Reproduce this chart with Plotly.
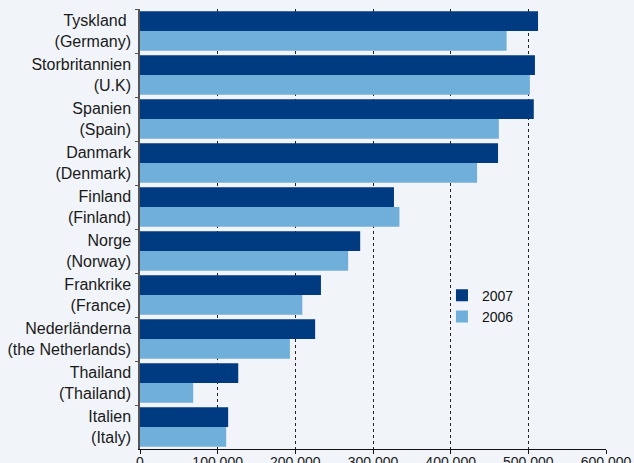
import plotly.graph_objects as go

categories = [
    "Tyskland\u00a0<br>(Germany)",
    "Storbritannien<br>(U.K)",
    "Spanien<br>(Spain)",
    "Danmark<br>(Denmark)",
    "Finland<br>(Finland)",
    "Norge<br>(Norway)",
    "Frankrike<br>(France)",
    "Nederländerna<br>(the Netherlands)",
    "Thailand<br>(Thailand)",
    "Italien<br>(Italy)",
]
values_2007 = [512500, 508500, 507000, 461000, 327000, 283500, 233000, 225500, 126500, 113500]
values_2006 = [472000, 502000, 462000, 434000, 334000, 268000, 209000, 193000, 68500, 111000]
tick_vals = [0, 100000, 200000, 300000, 400000, 500000, 600000]
tick_text = ["0", "100 000", "200 000", "300 000", "400 000", "500 000", "600 000"]

C2007 = "#003A80"
C2006 = "#70AFD9"
BG = "#F1F4F9"
FONT = "Liberation Sans, Arial, Helvetica, sans-serif"

fig = go.Figure()
fig.add_trace(go.Bar(name="2007", y=categories, x=values_2007, orientation="h",
                     marker=dict(color=C2007, line=dict(width=0))))
fig.add_trace(go.Bar(name="2006", y=categories, x=values_2006, orientation="h",
                     marker=dict(color=C2006, line=dict(width=0))))

fig.update_layout(
    width=634, height=463,
    margin=dict(l=140, r=28, t=9, b=14, pad=0),
    paper_bgcolor=BG, plot_bgcolor=BG,
    barmode="group", bargap=0.1, bargroupgap=0,
    font=dict(family=FONT, size=14, color="#1a1a1a"),
    showlegend=True,
    legend=dict(x=0.648, y=0.385, xanchor="left", yanchor="top",
                bgcolor="rgba(255,255,255,0)", traceorder="normal",
                font=dict(size=14, color="#111"), itemwidth=30,
                tracegroupgap=0),
)
fig.update_xaxes(
    range=[0, 600000], tickvals=tick_vals, ticktext=tick_text,
    showgrid=True, gridcolor="#222", gridwidth=1, griddash="dot",
    zeroline=False, showline=True, linecolor="#111", linewidth=1,
    ticks="outside", ticklen=4, tickcolor="#111", automargin=False,
    ticklabelstandoff=-4,
    tickfont=dict(size=14, color="#1a1a1a"),
)
fig.update_yaxes(
    autorange="reversed", showgrid=False, zeroline=False,
    showline=True, linecolor="#555", linewidth=1.5, automargin=False,
    ticks="outside", ticklen=3, tickcolor="#555", tickson="boundaries",
    ticklabelstandoff=4,
    tickfont=dict(size=16, color="#1a1a1a"),
)
fig.write_html("out.html")
